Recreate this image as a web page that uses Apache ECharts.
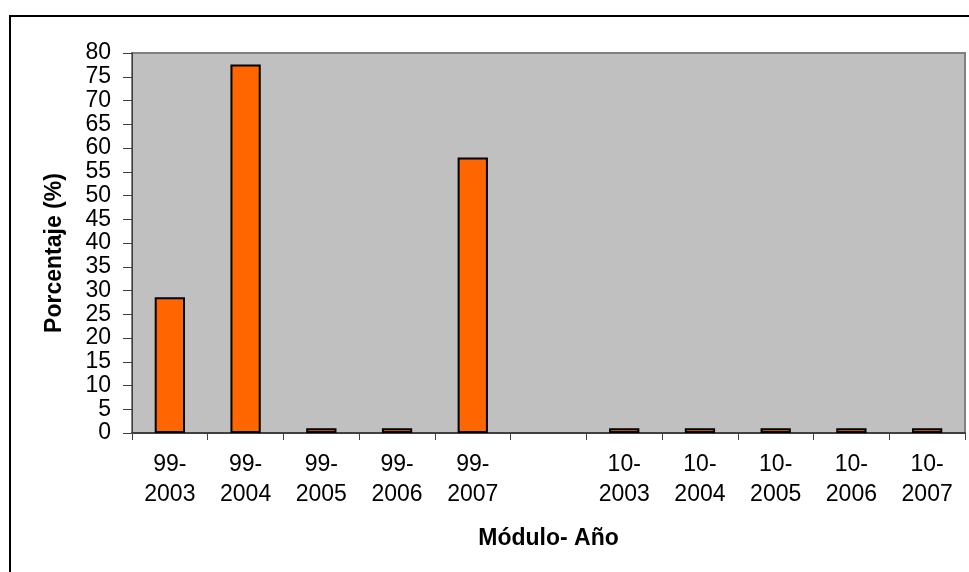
<!DOCTYPE html>
<html>
<head>
<meta charset="utf-8">
<script src="https://cdn.jsdelivr.net/npm/echarts@6/dist/echarts.min.js"></script>
<style>
  html, body { margin: 0; padding: 0; background: #ffffff; }
  #chart { width: 969px; height: 572px; }
</style>
</head>
<body>
<div id="chart"></div>
<script>
// Module-year categories; the blank slot separates module 99 from module 10
const categories = ['99-\n2003', '99-\n2004', '99-\n2005', '99-\n2006', '99-\n2007', '',
                    '10-\n2003', '10-\n2004', '10-\n2005', '10-\n2006', '10-\n2007'];
// Percentage per module-year (the blank slot has no bar)
const percentages = [28.6, 77.6, 1, 1, 58, null, 1, 1, 1, 1, 1];
// Y axis range and step
const yMin = 0, yMax = 80, yStep = 5;

const font = 'Arial, "Liberation Sans", sans-serif';
const chart = echarts.init(document.getElementById('chart'), null, { renderer: 'canvas' });

chart.setOption({
  backgroundColor: '#ffffff',
  animation: false,
  graphic: [{
    type: 'rect',
    shape: { x: 10, y: 16, width: 1000, height: 600 },
    style: { fill: 'none', stroke: '#000000', lineWidth: 2 },
    silent: true,
    z: 0
  }],
  grid: {
    left: 132, top: 53, right: 4, bottom: 139,
    show: true,
    backgroundColor: '#c0c0c0',
    borderColor: '#808080',
    borderWidth: 2
  },
  xAxis: {
    type: 'category',
    data: categories,
    boundaryGap: true,
    name: 'Módulo- Año',
    nameLocation: 'middle',
    nameGap: 94,
    nameTextStyle: { fontFamily: font, fontSize: 23, fontWeight: 'bold', color: '#000' },
    axisLine: { show: true, lineStyle: { color: '#404040', width: 2 } },
    axisTick: { show: true, alignWithLabel: false, length: 7, lineStyle: { color: '#404040', width: 1 } },
    axisLabel: {
      interval: 0,
      margin: 17,
      fontFamily: font,
      fontSize: 23,
      lineHeight: 30,
      color: '#000'
    },
    splitLine: { show: false }
  },
  yAxis: {
    type: 'value',
    min: yMin, max: yMax, interval: yStep,
    name: 'Porcentaje (%)',
    nameLocation: 'middle',
    nameGap: 66,
    nameRotate: 90,
    nameTextStyle: { fontFamily: font, fontSize: 23, fontWeight: 'bold', color: '#000', padding: [0, 20, 0, 0] },
    axisLine: { show: true, lineStyle: { color: '#404040', width: 1 } },
    axisTick: { show: true, length: 9, lineStyle: { color: '#404040', width: 1 } },
    axisLabel: { margin: 21, fontFamily: font, fontSize: 23, color: '#000' },
    splitLine: { show: false }
  },
  series: [{
    type: 'bar',
    data: percentages,
    barWidth: '40%',
    itemStyle: { color: '#ff6600', borderColor: '#000000', borderWidth: 2 }
  }]
});
</script>
</body>
</html>
